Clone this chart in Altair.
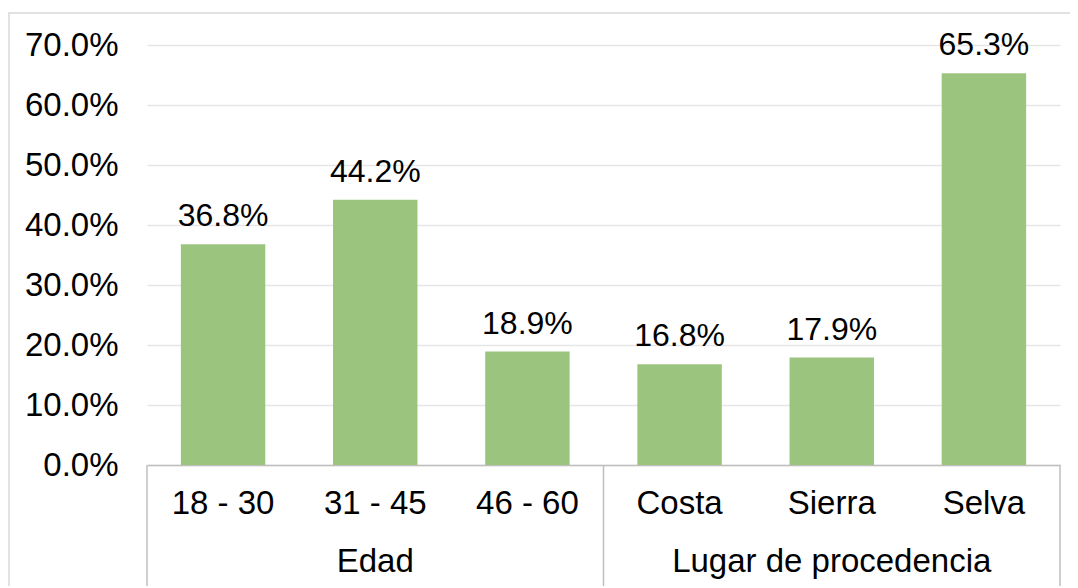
import altair as alt
import pandas as pd

categories = ["18 - 30", "31 - 45", "46 - 60", "Costa", "Sierra", "Selva"]
values = [0.368, 0.442, 0.189, 0.168, 0.179, 0.653]
groups = ["Edad", "Lugar de procedencia"]
group_mid = ["31 - 45", "Sierra"]
group_starts = ["18 - 30", "Costa"]
group_end = ["Selva"]
y_ticks = [0.0, 0.1, 0.2, 0.3, 0.4, 0.5, 0.6, 0.7]

W, H = 913, 420
FONT = "Liberation Sans"
FS = 33
FS_VAL = 32

df = pd.DataFrame({"cat": categories, "val": values})
gdf = pd.DataFrame({"cat": group_mid, "label": groups})
sdf = pd.DataFrame({"cat": group_starts})
edf = pd.DataFrame({"cat": group_end})

xscale = alt.Scale(domain=categories, paddingInner=0, paddingOuter=0)
yscale = alt.Scale(domain=[0, 0.7], nice=False)

xaxis = alt.Axis(title=None, domainColor="#bfbfbf", domainWidth=1.5, ticks=False,
                 labelFontSize=FS, labelFont=FONT, labelColor="black",
                 labelPadding=22, labelAngle=0, grid=False)
yaxis = alt.Axis(title=None, values=y_ticks, format=".1%", labelFontSize=FS,
                 labelFont=FONT, labelColor="black", labelPadding=29,
                 domain=False, ticks=False, gridColor="#e6e6e6", gridWidth=1.5)

X = alt.X("cat:N", scale=xscale, axis=xaxis, sort=categories)
Y = alt.Y("val:Q", scale=yscale, axis=yaxis)

border = alt.Chart(pd.DataFrame({"k": [0]})).mark_rect(
    fillOpacity=0, stroke="#d9d9d9", strokeWidth=1.5
).encode(x=alt.value(-138), x2=alt.value(W + 60), y=alt.value(-32), y2=alt.value(H + 300))

bars = alt.Chart(df).mark_bar(color="#9BC57E", width=alt.RelativeBandSize(0.555)).encode(x=X, y=Y)

labels = alt.Chart(df).mark_text(fontSize=FS_VAL, font=FONT, baseline="alphabetic",
                                 dy=-18, color="black").encode(
    x=X, y=Y, text=alt.Text("val:Q", format=".1%"))

seps = alt.Chart(sdf).mark_rule(color="#bfbfbf", strokeWidth=1.5).encode(
    x=alt.X("cat:N", scale=xscale, axis=xaxis, bandPosition=0),
    y=alt.value(H), y2=alt.value(H + 140))
seps_end = alt.Chart(edf).mark_rule(color="#bfbfbf", strokeWidth=1.5).encode(
    x=alt.X("cat:N", scale=xscale, axis=xaxis, bandPosition=1),
    y=alt.value(H), y2=alt.value(H + 140))

grp = alt.Chart(gdf).mark_text(fontSize=FS, font=FONT, baseline="alphabetic",
                               color="black").encode(
    x=X, y=alt.value(H + 107), text="label:N")

chart = alt.layer(border, bars, labels, seps, seps_end, grp).properties(
    width=W, height=H,
    autosize=alt.AutoSizeParams(type="none"),
    padding={"left": 139, "top": 37, "right": 10, "bottom": 121},
    background="white",
).configure_view(strokeWidth=0)

chart.save("out.html", embed_options={"renderer": "svg", "actions": False})
